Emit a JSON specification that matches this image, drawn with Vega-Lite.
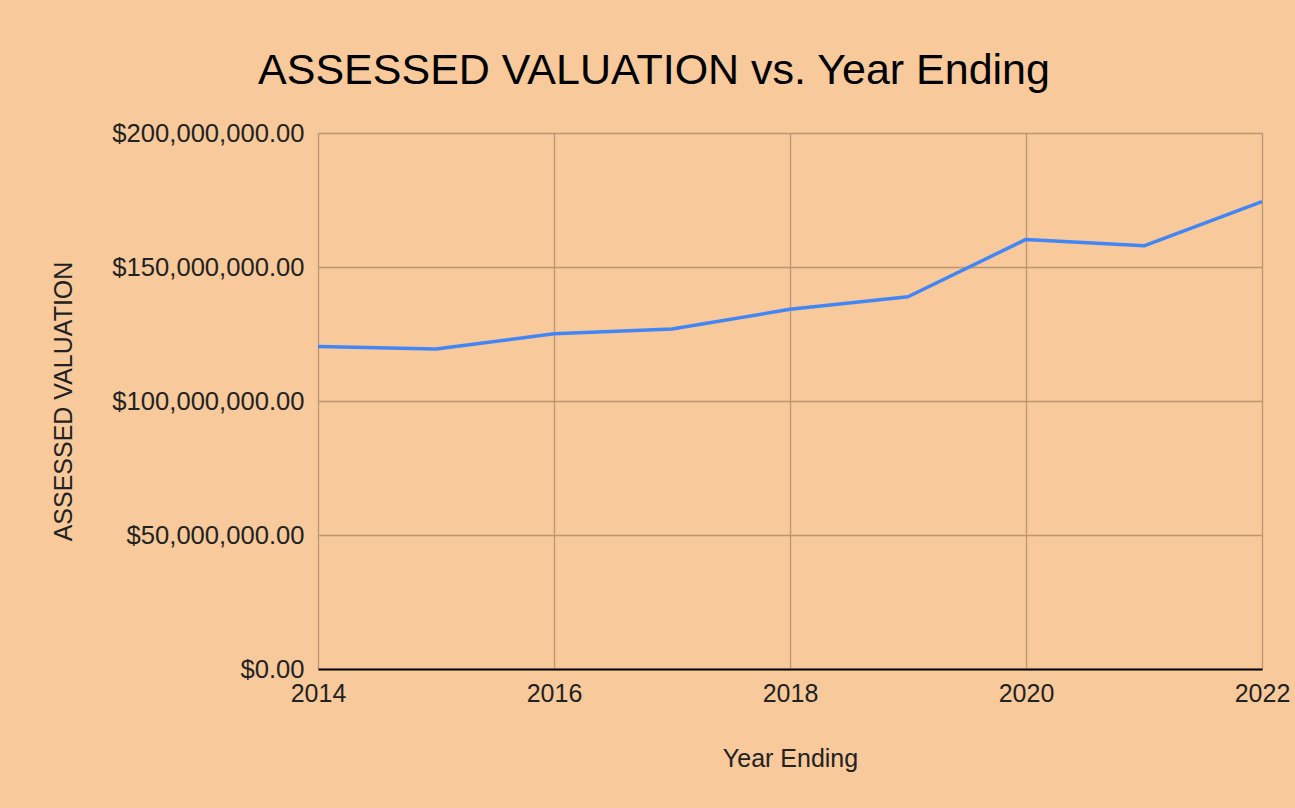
{
  "$schema": "https://vega.github.io/schema/vega-lite/v6.json",
  "autosize": "none",
  "width": 944,
  "height": 536,
  "padding": {"left": 318, "top": 133, "right": 33, "bottom": 139},
  "background": "#F8C99B",
  "config": {
    "font": "Liberation Sans",
    "view": {"stroke": null}
  },
  "title": {
    "text": "ASSESSED VALUATION vs. Year Ending",
    "fontSize": 43,
    "fontWeight": "normal",
    "color": "#000000",
    "anchor": "middle",
    "dx": -136,
    "offset": 28
  },
  "data": {
    "values": [
      {"year": 2014, "value": 120300000},
      {"year": 2015, "value": 119400000},
      {"year": 2016, "value": 125100000},
      {"year": 2017, "value": 126900000},
      {"year": 2018, "value": 134200000},
      {"year": 2019, "value": 138900000},
      {"year": 2020, "value": 160300000},
      {"year": 2021, "value": 157900000},
      {"year": 2022, "value": 174400000}
    ]
  },
  "mark": {"type": "line", "color": "#4285F4", "strokeWidth": 3.5, "strokeJoin": "round"},
  "encoding": {
    "x": {
      "field": "year",
      "type": "quantitative",
      "title": "Year Ending",
      "scale": {"domain": [2014, 2022], "nice": false, "zero": false},
      "axis": {
        "values": [2014, 2016, 2018, 2020, 2022],
        "format": "d",
        "labelFontSize": 25,
        "labelColor": "#222222",
        "labelPadding": 12,
        "labelFlush": false,
        "ticks": false,
        "domainColor": "#000000",
        "domainWidth": 2,
        "gridColor": "#BA9672",
        "gridWidth": 1.3,
        "gridOpacity": 1,
        "titleFontSize": 25,
        "titleFontWeight": "normal",
        "titleColor": "#222222",
        "titlePadding": 40
      }
    },
    "y": {
      "field": "value",
      "type": "quantitative",
      "title": "ASSESSED VALUATION",
      "scale": {"domain": [0, 200000000], "nice": false},
      "axis": {
        "values": [0, 50000000, 100000000, 150000000, 200000000],
        "format": "$,.2f",
        "labelFontSize": 25.6,
        "labelLimit": 400,
        "labelColor": "#222222",
        "labelPadding": 14,
        "ticks": false,
        "domain": false,
        "gridColor": "#BA9672",
        "gridWidth": 1.3,
        "gridOpacity": 1,
        "titleFontSize": 25,
        "titleFontWeight": "normal",
        "titleColor": "#222222",
        "titlePadding": 42
      }
    }
  }
}
